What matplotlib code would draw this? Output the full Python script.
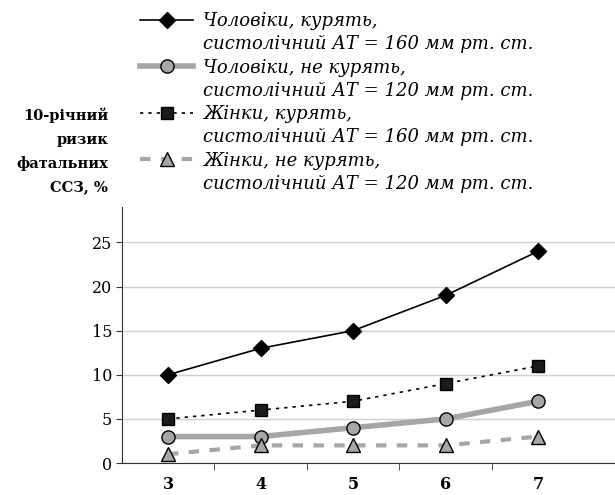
import matplotlib
matplotlib.use("Agg")
import matplotlib.pyplot as plt
from matplotlib.lines import Line2D

# score categories on x
categories = ["3", "4", "5", "6", "7"]

men_smoke_160 = [10, 13, 15, 19, 24]
men_nosmoke_120 = [3, 3, 4, 5, 7]
women_smoke_160 = [5, 6, 7, 9, 11]
women_nosmoke_120 = [1, 2, 2, 2, 3]

labels = [
    ("Чоловіки, курять,", "систолічний АТ = 160 мм рт. ст."),
    ("Чоловіки, не курять,", "систолічний АТ = 120 мм рт. ст."),
    ("Жінки, курять,", "систолічний АТ = 160 мм рт. ст."),
    ("Жінки, не курять,", "систолічний АТ = 120 мм рт. ст."),
]

plt.rcParams['font.family'] = ['DejaVu Serif']

fig = plt.figure(figsize=(6.15, 4.95), dpi=100)
ax = fig.add_axes([0.198, 0.0646, 0.802, 0.517])

x = list(range(len(categories)))

styles = [
    dict(color='black', lw=1.2, ls='-', marker='D', ms=8, mfc='black', mec='black'),
    dict(color='#a6a6a6', lw=4, ls='-', marker='o', ms=9.5, mfc='#a6a6a6', mec='black', mew=1),
    dict(color='black', lw=1.2, ls=(0, (2, 3)), marker='s', ms=8, mfc='#1a1a1a', mec='black'),
    dict(color='#a6a6a6', lw=3, ls=(0, (2.5, 2.5)), marker='^', ms=9.5, mfc='#a6a6a6', mec='black', mew=1),
]

series = [men_smoke_160, men_nosmoke_120, women_smoke_160, women_nosmoke_120]
handles = []
for vals, st in zip(series, styles):
    h, = ax.plot(x, vals, clip_on=False, zorder=3, **st)
    handles.append(h)

ax.set_xlim(-0.5, 4.83)
ax.set_ylim(0, 29)
ax.set_yticks([0, 5, 10, 15, 20, 25])
ax.set_yticklabels(["0", "5", "10", "15", "20", "25"], fontsize=11.5)
ax.set_xticks(x)
ax.set_xticklabels(categories, fontsize=11.5, fontweight='bold')
ax.set_xticks([0.5, 1.5, 2.5, 3.5], minor=True)
ax.tick_params(axis='x', which='major', length=0, pad=9)
ax.tick_params(axis='x', which='minor', length=5, direction='out', color='#333333')
ax.tick_params(axis='y', length=4, direction='out', pad=3, color='#333333')
ax.grid(axis='y', color='#d0d0d0', lw=1)
ax.set_axisbelow(True)
for s in ['top', 'right']:
    ax.spines[s].set_visible(False)
ax.spines['left'].set_color('#333333')
ax.spines['bottom'].set_color('#333333')

# legend: handle on first line, second line blank handle
blank = Line2D([], [], linestyle='none')
leg_handles, leg_labels = [], []
for h, (l1, l2) in zip(handles, labels):
    leg_handles += [h, blank]
    leg_labels += [l1, l2]
leg = fig.legend(leg_handles, leg_labels, loc='upper left',
                 bbox_to_anchor=(0.216, 0.99), frameon=False, borderaxespad=0,
                 handlelength=2.95, handletextpad=0.55, labelspacing=0.29,
                 prop=dict(family='DejaVu Serif', style='italic', size=13))

fig.text(0.176, 0.782, "10-річний\nризик\nфатальних\nССЗ, %", ha='right', va='top',
         fontsize=10.5, fontweight='bold', linespacing=1.83)

fig.savefig("out.png", dpi=100)
